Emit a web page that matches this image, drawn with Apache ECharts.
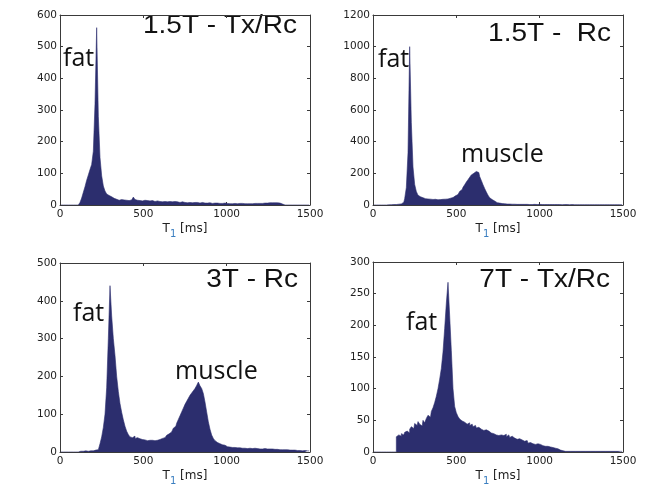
<!DOCTYPE html>
<html><head><meta charset="utf-8">
<script src="https://cdn.jsdelivr.net/npm/echarts@6/dist/echarts.min.js"></script>
<style>html,body{margin:0;padding:0;background:#fff}#c{width:646px;height:487px}</style>
</head><body><div id="c"></div>
<script>
// Histogram bins: 10 ms wide, centres 5..1495 ms
const binCenters = [];
for (let i = 0; i < 150; i++) binCenters.push(i * 10 + 5);
const xTicks = [0, 500, 1000, 1500];
const panelTitles = ['1.5T - Tx/Rc', '1.5T -  Rc', '3T - Rc', '7T - Tx/Rc'];
const yMax = [600, 1200, 500, 300];
const yStep = [100, 200, 100, 50];

const counts15TxRc = [
  0,0,0,0,0,0,0,0,0,0,
  0,2,8,22,40,58,78,95,112,128,
  170,320,560,280,150,92,60,44,35,30,
  26,23,21,18,17,15,17,14,16,15,
  18,14,16,19,25,17,15,14,16,13,
  15,12,14,13,12,14,11,12,13,11,
  12,10,11,12,10,11,9,10,11,9,
  10,8,9,10,8,9,7,8,9,7,
  8,7,8,6,7,8,6,7,6,7,
  6,5,6,5,6,5,6,5,6,7,
  5,4,5,4,5,4,4,5,4,5,
  4,5,4,4,5,4,5,4,5,5,
  6,5,6,7,6,7,6,7,7,6,
  7,6,7,3,0,0,0,0,0,0,
  0,0,0,0,0,0,0,0,0,0
];
const counts15Rc = [
  0,0,0,0,0,0,0,0,0,1,
  2,2,3,3,4,5,7,10,18,40,
  110,330,1000,520,240,130,85,62,52,46,
  42,40,38,36,37,35,34,36,33,35,
  34,36,35,37,38,40,43,47,52,58,
  66,75,86,98,112,128,145,160,175,190,
  200,212,216,205,180,155,128,104,82,62,
  46,34,25,19,15,12,10,9,8,7,
  6,6,5,5,5,5,4,4,4,4,
  4,4,4,3,4,3,4,3,3,4,
  3,3,3,3,3,3,3,3,3,3,
  3,3,3,2,3,2,3,2,2,3,
  2,2,2,2,2,2,2,2,2,2,
  2,2,2,2,2,2,2,2,2,2,
  2,2,2,2,2,2,2,2,2,2
];
const counts3TRc = [
  0,0,0,0,0,0,0,0,0,0,
  0,0,2,2,2,3,2,3,3,3,
  4,5,6,10,22,40,65,100,170,300,
  440,360,300,255,200,160,128,105,85,68,
  55,46,40,38,42,36,38,35,37,33,
  32,34,30,31,29,31,30,32,31,33,
  34,36,38,40,44,48,53,58,63,68,
  76,86,96,106,116,126,134,142,150,156,
  162,168,176,185,175,168,155,132,106,80,
  60,45,36,30,25,22,20,19,18,16,
  14,13,13,12,12,11,11,11,10,10,
  10,10,9,10,9,9,10,9,9,8,
  9,8,9,8,8,8,7,8,7,7,
  7,6,7,6,6,5,6,5,5,5,
  5,4,4,4,4,3,4,3,3,3
];
const counts7TxRc = [
  0,0,0,0,0,0,0,0,0,0,
  0,0,0,0,24,27,25,29,27,31,
  33,30,36,40,37,45,42,48,44,41,
  50,46,53,58,55,64,70,78,88,100,
  115,132,158,195,235,268,215,160,100,72,
  62,56,52,49,47,50,44,46,42,44,
  40,42,38,39,36,37,34,35,32,33,
  30,31,29,27,28,26,27,24,26,28,
  24,27,23,25,22,24,20,21,18,19,
  17,16,18,14,15,13,14,12,13,11,
  12,10,11,9,9,8,8,7,7,6,
  5,4,3,2,2,1,1,2,1,1,
  1,1,1,1,1,1,1,1,1,1,
  1,1,1,1,1,1,1,1,1,1,
  1,1,1,1,1,1,1,1,1,1
];
const allCounts = [counts15TxRc, counts15Rc, counts3TRc, counts7TxRc];
const peakLabels = [['fat'], ['fat', 'muscle'], ['fat', 'muscle'], ['fat']];

const grids = [
  {left: 60, top: 15, width: 250, height: 190},
  {left: 373, top: 15, width: 250, height: 190},
  {left: 60, top: 263, width: 250, height: 191},
  {left: 373, top: 262, width: 250, height: 192}
];
const fillCol = '#2c2e6e';
const lineCol = '#3a3a3a';
const tickFont = {color: '#222', fontFamily: 'DejaVu Sans', fontSize: 10.5, formatter: v => String(v)};

const xAxes = [], yAxes = [], series = [];
grids.forEach((g, k) => {
  const common = {
    gridIndex: k, type: 'value', splitLine: {show: false},
    axisLine: {show: true, onZero: false, lineStyle: {color: lineCol, width: 1}},
    axisTick: {show: true, inside: true, length: 3, lineStyle: {color: lineCol}}
  };
  xAxes.push(Object.assign({}, common, {
    min: xTicks[0], max: xTicks[xTicks.length - 1], interval: xTicks[1] - xTicks[0], position: 'bottom',
    axisLabel: Object.assign({margin: 4}, tickFont),
    name: '{a|T}{b|1}{a| [ms]}', nameLocation: 'middle', nameGap: 14,
    nameTextStyle: {rich: {
      a: {fontFamily: 'DejaVu Sans', fontSize: 12, color: '#222'},
      b: {fontFamily: 'DejaVu Sans', fontSize: 10, color: '#3a7ec0', padding: [10, 0, 0, 0]}
    }}
  }));
  xAxes.push(Object.assign({}, common, {
    min: xTicks[0], max: xTicks[xTicks.length - 1], interval: xTicks[1] - xTicks[0], position: 'top',
    axisLabel: {show: false}
  }));
  yAxes.push(Object.assign({}, common, {
    min: 0, max: yMax[k], interval: yStep[k], position: 'left',
    axisLabel: Object.assign({margin: 3}, tickFont)
  }));
  yAxes.push(Object.assign({}, common, {
    min: 0, max: yMax[k], interval: yStep[k], position: 'right',
    axisLabel: {show: false}
  }));
  series.push({
    type: 'line', xAxisIndex: 2 * k, yAxisIndex: 2 * k,
    data: binCenters.map((x, i) => [x, allCounts[k][i]]),
    step: 'middle', symbol: 'none', silent: true,
    lineStyle: {width: 0.6, color: fillCol},
    areaStyle: {color: fillCol, opacity: 1}
  });
});

const titleFont = '25px "Liberation Sans"';
const labelFont = '25px "Open Sans"';
const titlePos = [[297, 26], [611, 34], [298, 280], [610, 280]];
const labelPos = [
  [[63, 58.5]],
  [[378, 59.5], [461, 154.5]],
  [[73, 314], [175, 372]],
  [[406, 323]]
];
const graphics = [];
panelTitles.forEach((t, k) => {
  graphics.push({type: 'text', x: titlePos[k][0], y: titlePos[k][1], scaleX: 1.12,
    style: {text: t, font: titleFont, fill: '#111', align: 'right', verticalAlign: 'middle'}});
  peakLabels[k].forEach((lab, j) => {
    graphics.push({type: 'text', x: labelPos[k][j][0], y: labelPos[k][j][1],
      style: {text: lab, font: labelFont, fill: '#111', align: 'left', verticalAlign: 'middle'}});
  });
});

const chart = echarts.init(document.getElementById('c'), null, {renderer: 'canvas'});
chart.setOption({
  animation: false,
  backgroundColor: '#fff',
  grid: grids,
  xAxis: xAxes,
  yAxis: yAxes,
  series: series,
  graphic: graphics
});
</script></body></html>
